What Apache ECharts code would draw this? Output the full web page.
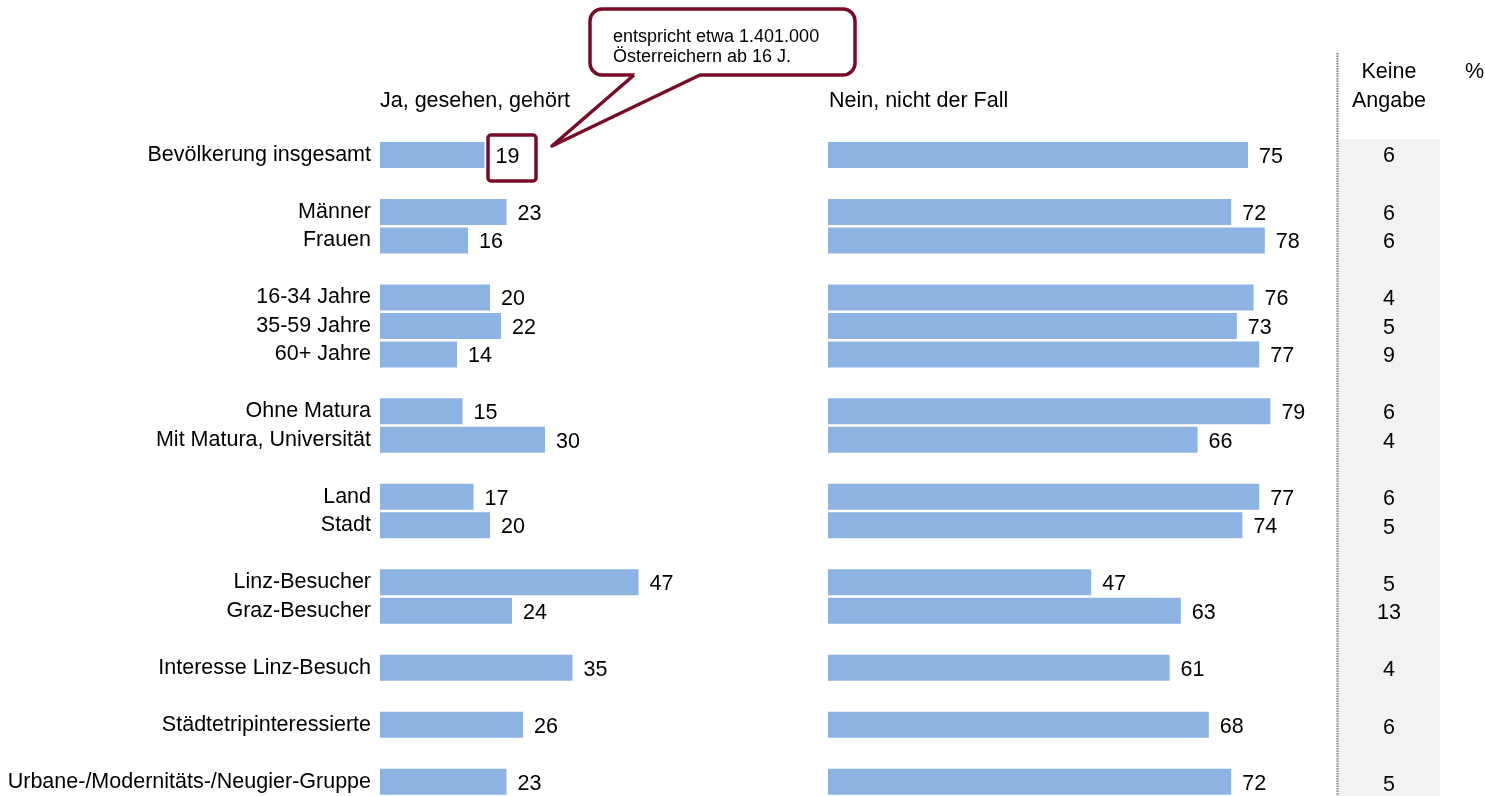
<!DOCTYPE html>
<html>
<head>
<meta charset="utf-8">
<script src="https://cdn.jsdelivr.net/npm/echarts@6/dist/echarts.min.js"></script>
<style>
  html, body { margin: 0; padding: 0; background: #fff; }
  #chart { width: 1485px; height: 796px; }
</style>
</head>
<body>
<div id="chart"></div>
<script>
// Survey rows, top to bottom
const categories = [
  'Bevölkerung insgesamt',
  'Männer', 'Frauen',
  '16-34 Jahre', '35-59 Jahre', '60+ Jahre',
  'Ohne Matura', 'Mit Matura, Universität',
  'Land', 'Stadt',
  'Linz-Besucher', 'Graz-Besucher',
  'Interesse Linz-Besuch',
  'Städtetripinteressierte',
  'Urbane-/Modernitäts-/Neugier-Gruppe'
];
// rows per group; an empty slot separates groups
const groupSizes = [1, 2, 3, 2, 2, 2, 1, 1, 1];
const jaValues    = [19, 23, 16, 20, 22, 14, 15, 30, 17, 20, 47, 24, 35, 26, 23];
const neinValues  = [75, 72, 78, 76, 73, 77, 79, 66, 77, 74, 47, 63, 61, 68, 72];
const keineValues = [6, 6, 6, 4, 5, 9, 6, 4, 6, 5, 5, 13, 4, 6, 5];

const headerJa = 'Ja, gesehen, gehört';
const headerNein = 'Nein, nicht der Fall';
const headerKeine = 'Keine\nAngabe';
const calloutText = 'entspricht etwa 1.401.000\nÖsterreichern ab 16 J.';

// expand rows into axis slots with spacers between groups
const slotLabels = [], slotJa = [], slotNein = [], keineData = [];
let row = 0;
groupSizes.forEach((size, g) => {
  if (g > 0) { slotLabels.push(''); slotJa.push(null); slotNein.push(null); }
  for (let k = 0; k < size; k++, row++) {
    keineData.push({ value: [0.5, slotLabels.length, keineValues[row]] });
    slotLabels.push(categories[row]);
    slotJa.push(jaValues[row]);
    slotNein.push(neinValues[row]);
  }
});

const FONT = 'Liberation Sans, Arial, sans-serif';
const FS = 21.5;
const BAR = '#8db3e2';
const DARK = '#7a0a27';
const bandTop = 140.7, bandHeight = 657.6;

const chart = echarts.init(document.getElementById('chart'), null, { renderer: 'canvas' });

const yCommon = {
  type: 'category', data: slotLabels, inverse: true,
  axisLine: { show: false }, axisTick: { show: false }, splitLine: { show: false }
};
const xCommon = {
  type: 'value', min: 0, show: false, splitLine: { show: false }
};
const valueLabel = {
  show: true, position: 'right', distance: 11, offset: [0, 2],
  color: '#000', fontFamily: FONT, fontSize: FS
};

chart.setOption({
  animation: false,
  backgroundColor: '#fff',
  grid: [
    { left: 380, width: 275, top: bandTop, height: bandHeight },
    { left: 828, width: 448, top: bandTop, height: bandHeight },
    { left: 1338, width: 102, top: bandTop - 1.5, height: bandHeight + 1.5,
      show: true, backgroundColor: '#f2f2f2', borderWidth: 0 }
  ],
  xAxis: [
    Object.assign({ gridIndex: 0, max: 50 }, xCommon),
    Object.assign({ gridIndex: 1, max: 80 }, xCommon),
    { gridIndex: 2, type: 'value', min: 0, max: 1, show: false }
  ],
  yAxis: [
    Object.assign({ gridIndex: 0, axisLabel: {
      show: true, margin: 9, color: '#000', fontFamily: FONT, fontSize: FS, interval: 0
    } }, yCommon),
    Object.assign({ gridIndex: 1, axisLabel: { show: false } }, yCommon),
    Object.assign({ gridIndex: 2, axisLabel: { show: false } }, yCommon)
  ],
  series: [
    { type: 'bar', xAxisIndex: 0, yAxisIndex: 0, data: slotJa, barWidth: 26,
      itemStyle: { color: BAR }, label: valueLabel },
    { type: 'bar', xAxisIndex: 1, yAxisIndex: 1, data: slotNein, barWidth: 26,
      itemStyle: { color: BAR }, label: valueLabel },
    // "Keine Angabe" column: invisible points carrying centred value labels
    { type: 'scatter', xAxisIndex: 2, yAxisIndex: 2, data: keineData,
      symbolSize: 2, itemStyle: { color: 'rgba(0,0,0,0)' },
      label: { show: true, position: 'inside', offset: [0, 3],
        formatter: p => String(p.value[2]), color: '#000', opacity: 1,
        textBorderWidth: 0, fontFamily: FONT, fontSize: FS } }
  ],
  graphic: [
    { type: 'text', x: 380, y: 90,
      style: { text: headerJa, fill: '#000', font: FS + 'px ' + FONT } },
    { type: 'text', x: 829, y: 90,
      style: { text: headerNein, fill: '#000', font: FS + 'px ' + FONT } },
    { type: 'text', x: 1389, y: 58,
      style: { text: headerKeine, fill: '#000', font: FS + 'px ' + FONT,
        align: 'center', lineHeight: 29 } },
    { type: 'text', x: 1465, y: 58,
      style: { text: '%', fill: '#000', font: FS + 'px ' + FONT, lineHeight: 29 } },
    // dotted divider before the "Keine Angabe" column
    { type: 'line', shape: { x1: 1337.5, y1: 53, x2: 1337.5, y2: 796 },
      style: { stroke: '#7f7f7f', lineWidth: 2, lineDash: [1.5, 1] } },
    // highlight frame around the first value
    { type: 'rect', shape: { x: 488, y: 135, width: 48, height: 46, r: 3 },
      style: { fill: 'none', stroke: DARK, lineWidth: 3.5 }, z: 10 },
    // speech bubble: rounded box, white gap in its bottom edge, pointer sides
    { type: 'rect', z: 10, shape: { x: 590, y: 9, width: 265, height: 66, r: 12 },
      style: { fill: '#fff', stroke: DARK, lineWidth: 3.5 } },
    { type: 'polygon', z: 11,
      shape: { points: [[636, 71], [698, 71], [700, 75], [552, 146], [634, 75]] },
      style: { fill: '#fff' } },
    { type: 'polyline', z: 12,
      shape: { points: [[634, 75], [552, 146], [700, 75]] },
      style: { stroke: DARK, lineWidth: 3.5, lineJoin: 'round', fill: null } },
    { type: 'text', x: 613, y: 27, z: 13,
      style: { text: calloutText, fill: '#000', font: '18px ' + FONT, lineHeight: 20 } }
  ]
});
</script>
</body>
</html>
